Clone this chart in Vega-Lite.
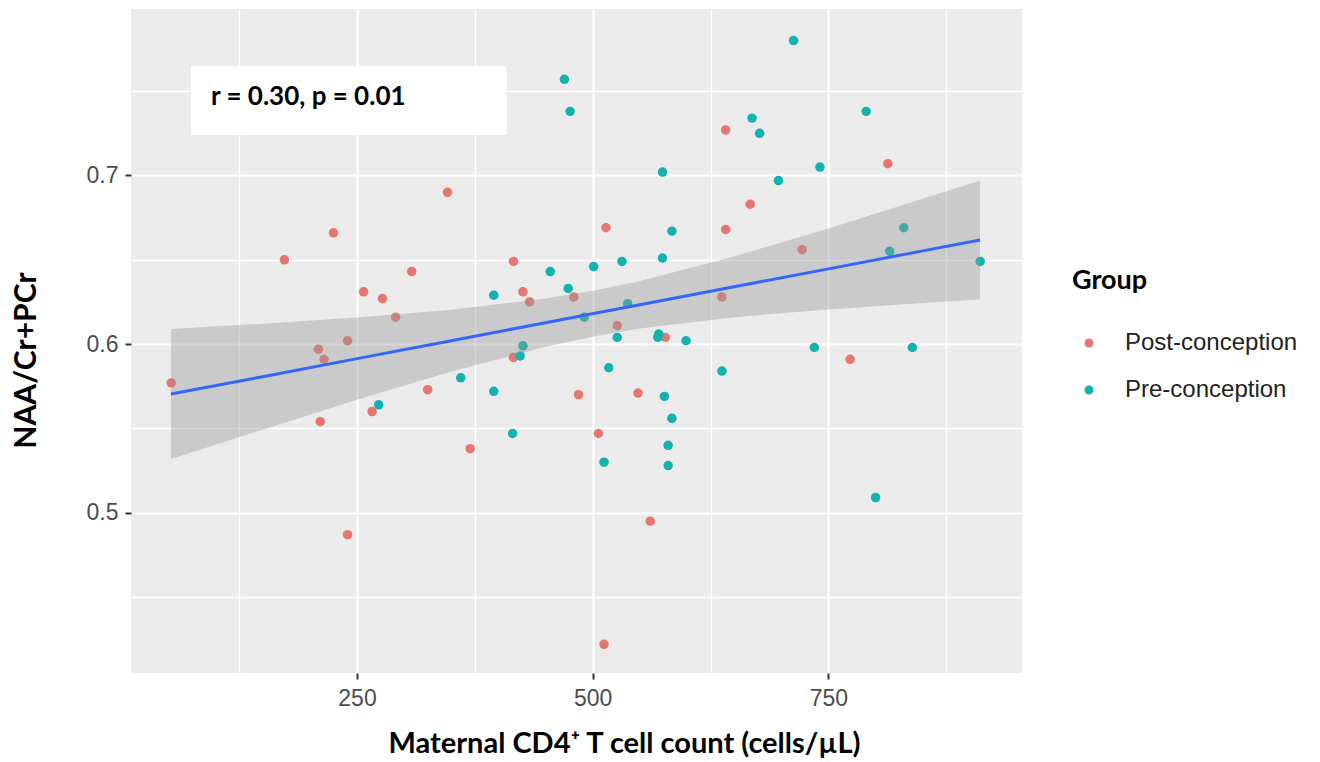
{
  "$schema": "https://vega.github.io/schema/vega-lite/v6.json",
  "width": 891,
  "height": 664,
  "autosize": {"type": "none"},
  "padding": {"left": 131, "top": 9, "right": 298, "bottom": 89},
  "background": "#FFFFFF",
  "config": {
    "view": {"fill": "#EBEBEB", "stroke": null},
    "axis": {
      "domain": false,
      "labelFont": "Liberation Sans",
      "labelFontSize": 23,
      "labelColor": "#4D4D4D",
      "tickColor": "#333333",
      "tickWidth": 2,
      "tickSize": 6,
      "gridColor": "#FFFFFF",
      "gridWidth": 2.2,
      "titleFont": "Lato",
      "titleFontWeight": "bold",
      "titleColor": "#000000"
    },
    "legend": {
      "orient": "none",
      "legendX": 941,
      "legendY": 259,
      "padding": 0,
      "titleFont": "Lato",
      "titleFontSize": 27,
      "titleFontWeight": "bold",
      "titleColor": "#000000",
      "titlePadding": 36,
      "labelFont": "Liberation Sans",
      "labelFontSize": 24,
      "labelColor": "#222222",
      "labelLimit": 400,
      "symbolSize": 80,
      "symbolType": "circle",
      "symbolOffset": 5,
      "labelOffset": 24,
      "rowPadding": 23,
      "symbolStrokeWidth": 0
    }
  },
  "datasets": {
    "points": [
      {"cd4": 346, "naa": 0.690, "group": "Post-conception"},
      {"cd4": 225, "naa": 0.666, "group": "Post-conception"},
      {"cd4": 173, "naa": 0.650, "group": "Post-conception"},
      {"cd4": 308, "naa": 0.643, "group": "Post-conception"},
      {"cd4": 416, "naa": 0.649, "group": "Post-conception"},
      {"cd4": 257, "naa": 0.631, "group": "Post-conception"},
      {"cd4": 277, "naa": 0.627, "group": "Post-conception"},
      {"cd4": 426, "naa": 0.631, "group": "Post-conception"},
      {"cd4": 433, "naa": 0.625, "group": "Post-conception"},
      {"cd4": 291, "naa": 0.616, "group": "Post-conception"},
      {"cd4": 240, "naa": 0.602, "group": "Post-conception"},
      {"cd4": 209, "naa": 0.597, "group": "Post-conception"},
      {"cd4": 215, "naa": 0.591, "group": "Post-conception"},
      {"cd4": 53, "naa": 0.577, "group": "Post-conception"},
      {"cd4": 325, "naa": 0.573, "group": "Post-conception"},
      {"cd4": 266, "naa": 0.560, "group": "Post-conception"},
      {"cd4": 211, "naa": 0.554, "group": "Post-conception"},
      {"cd4": 370, "naa": 0.538, "group": "Post-conception"},
      {"cd4": 240, "naa": 0.487, "group": "Post-conception"},
      {"cd4": 416, "naa": 0.592, "group": "Post-conception"},
      {"cd4": 485, "naa": 0.570, "group": "Post-conception"},
      {"cd4": 480, "naa": 0.628, "group": "Post-conception"},
      {"cd4": 526, "naa": 0.611, "group": "Post-conception"},
      {"cd4": 577, "naa": 0.604, "group": "Post-conception"},
      {"cd4": 548, "naa": 0.571, "group": "Post-conception"},
      {"cd4": 506, "naa": 0.547, "group": "Post-conception"},
      {"cd4": 561, "naa": 0.495, "group": "Post-conception"},
      {"cd4": 512, "naa": 0.422, "group": "Post-conception"},
      {"cd4": 641, "naa": 0.727, "group": "Post-conception"},
      {"cd4": 667, "naa": 0.683, "group": "Post-conception"},
      {"cd4": 514, "naa": 0.669, "group": "Post-conception"},
      {"cd4": 641, "naa": 0.668, "group": "Post-conception"},
      {"cd4": 722, "naa": 0.656, "group": "Post-conception"},
      {"cd4": 813, "naa": 0.707, "group": "Post-conception"},
      {"cd4": 637, "naa": 0.628, "group": "Post-conception"},
      {"cd4": 773, "naa": 0.591, "group": "Post-conception"},
      {"cd4": 470, "naa": 0.757, "group": "Pre-conception"},
      {"cd4": 476, "naa": 0.738, "group": "Pre-conception"},
      {"cd4": 713, "naa": 0.780, "group": "Pre-conception"},
      {"cd4": 669, "naa": 0.734, "group": "Pre-conception"},
      {"cd4": 677, "naa": 0.725, "group": "Pre-conception"},
      {"cd4": 790, "naa": 0.738, "group": "Pre-conception"},
      {"cd4": 574, "naa": 0.702, "group": "Pre-conception"},
      {"cd4": 741, "naa": 0.705, "group": "Pre-conception"},
      {"cd4": 697, "naa": 0.697, "group": "Pre-conception"},
      {"cd4": 584, "naa": 0.667, "group": "Pre-conception"},
      {"cd4": 830, "naa": 0.669, "group": "Pre-conception"},
      {"cd4": 815, "naa": 0.655, "group": "Pre-conception"},
      {"cd4": 911, "naa": 0.649, "group": "Pre-conception"},
      {"cd4": 455, "naa": 0.643, "group": "Pre-conception"},
      {"cd4": 501, "naa": 0.646, "group": "Pre-conception"},
      {"cd4": 531, "naa": 0.649, "group": "Pre-conception"},
      {"cd4": 574, "naa": 0.651, "group": "Pre-conception"},
      {"cd4": 395, "naa": 0.629, "group": "Pre-conception"},
      {"cd4": 474, "naa": 0.633, "group": "Pre-conception"},
      {"cd4": 537, "naa": 0.624, "group": "Pre-conception"},
      {"cd4": 491, "naa": 0.616, "group": "Pre-conception"},
      {"cd4": 526, "naa": 0.604, "group": "Pre-conception"},
      {"cd4": 570, "naa": 0.606, "group": "Pre-conception"},
      {"cd4": 569, "naa": 0.604, "group": "Pre-conception"},
      {"cd4": 599, "naa": 0.602, "group": "Pre-conception"},
      {"cd4": 426, "naa": 0.599, "group": "Pre-conception"},
      {"cd4": 423, "naa": 0.593, "group": "Pre-conception"},
      {"cd4": 517, "naa": 0.586, "group": "Pre-conception"},
      {"cd4": 360, "naa": 0.580, "group": "Pre-conception"},
      {"cd4": 273, "naa": 0.564, "group": "Pre-conception"},
      {"cd4": 395, "naa": 0.572, "group": "Pre-conception"},
      {"cd4": 415, "naa": 0.547, "group": "Pre-conception"},
      {"cd4": 576, "naa": 0.569, "group": "Pre-conception"},
      {"cd4": 584, "naa": 0.556, "group": "Pre-conception"},
      {"cd4": 580, "naa": 0.540, "group": "Pre-conception"},
      {"cd4": 512, "naa": 0.530, "group": "Pre-conception"},
      {"cd4": 580, "naa": 0.528, "group": "Pre-conception"},
      {"cd4": 735, "naa": 0.598, "group": "Pre-conception"},
      {"cd4": 839, "naa": 0.598, "group": "Pre-conception"},
      {"cd4": 637, "naa": 0.584, "group": "Pre-conception"},
      {"cd4": 800, "naa": 0.509, "group": "Pre-conception"}
    ],
    "smooth": [
      {"cd4": 52.7, "fit": 0.5704, "lower": 0.5319, "upper": 0.6089},
      {"cd4": 150, "fit": 0.5807, "lower": 0.5493, "upper": 0.6121},
      {"cd4": 250, "fit": 0.5914, "lower": 0.5670, "upper": 0.6158},
      {"cd4": 350, "fit": 0.6020, "lower": 0.5837, "upper": 0.6204},
      {"cd4": 450, "fit": 0.6127, "lower": 0.5984, "upper": 0.6270},
      {"cd4": 503.5, "fit": 0.6184, "lower": 0.6048, "upper": 0.6320},
      {"cd4": 550, "fit": 0.6233, "lower": 0.6092, "upper": 0.6374},
      {"cd4": 650, "fit": 0.6340, "lower": 0.6160, "upper": 0.6520},
      {"cd4": 750, "fit": 0.6446, "lower": 0.6206, "upper": 0.6686},
      {"cd4": 850, "fit": 0.6553, "lower": 0.6244, "upper": 0.6862},
      {"cd4": 910.8, "fit": 0.6617, "lower": 0.6264, "upper": 0.6970}
    ],
    "note": [
      {"label": "r = 0.30, p = 0.01", "box_from": 73.9, "box_to": 408.6, "box_low": 0.7240, "box_high": 0.7649, "text_cd4": 95.1, "text_naa": 0.7418}
    ]
  },
  "layer": [
    {
      "data": {"name": "smooth"},
      "mark": {"type": "line", "opacity": 0},
      "encoding": {
        "x": {
          "field": "cd4", "type": "quantitative",
          "scale": {"domain": [10.3, 955.3], "nice": false, "zero": false},
          "axis": {"orient": "top", "values": [125, 375, 625, 875], "grid": true, "gridWidth": 1.3, "labels": false, "ticks": false, "title": null}
        },
        "y": {
          "field": "fit", "type": "quantitative",
          "scale": {"domain": [0.405, 0.7987], "nice": false, "zero": false},
          "axis": {"orient": "right", "values": [0.45, 0.55, 0.65, 0.75], "grid": true, "gridWidth": 1.3, "labels": false, "ticks": false, "title": null}
        }
      }
    },
    {
      "data": {"name": "points"},
      "mark": {"type": "circle", "size": 90, "opacity": 1},
      "encoding": {
        "x": {
          "field": "cd4", "type": "quantitative",
          "axis": {
            "orient": "bottom", "values": [250, 500, 750], "grid": true,
            "labelPadding": 8,
            "title": "Maternal CD4⁺ T cell count (cells/µL)",
            "titleFontSize": 29, "titleX": 493, "titleY": 79, "titleBaseline": "alphabetic", "titleAlign": "center"
          }
        },
        "y": {
          "field": "naa", "type": "quantitative",
          "axis": {
            "orient": "left", "values": [0.5, 0.6, 0.7], "format": ".1f", "grid": true,
            "labelPadding": 7,
            "title": "NAA/Cr+PCr",
            "titleFontSize": 30, "titleX": -96, "titleY": 351, "titleBaseline": "alphabetic", "titleAlign": "center", "titleAngle": -90
          }
        },
        "color": {
          "field": "group", "type": "nominal",
          "scale": {"domain": ["Post-conception", "Pre-conception"], "range": ["#E6766F", "#10B3AD"]},
          "legend": {"title": "Group"}
        }
      }
    },
    {
      "data": {"name": "smooth"},
      "mark": {"type": "area", "color": "#999999", "opacity": 0.4},
      "encoding": {
        "x": {"field": "cd4", "type": "quantitative", "axis": null},
        "y": {"field": "lower", "type": "quantitative", "axis": null},
        "y2": {"field": "upper"}
      }
    },
    {
      "data": {"name": "smooth"},
      "mark": {"type": "line", "color": "#3366FF", "strokeWidth": 3},
      "encoding": {
        "x": {"field": "cd4", "type": "quantitative", "axis": null},
        "y": {"field": "fit", "type": "quantitative", "axis": null}
      }
    },
    {
      "data": {"name": "note"},
      "mark": {"type": "rect", "color": "#FFFFFF"},
      "encoding": {
        "x": {"field": "box_from", "type": "quantitative", "axis": null},
        "x2": {"field": "box_to"},
        "y": {"field": "box_low", "type": "quantitative", "axis": null},
        "y2": {"field": "box_high"}
      }
    },
    {
      "data": {"name": "note"},
      "mark": {"type": "text", "align": "left", "baseline": "alphabetic", "font": "Lato", "fontWeight": "bold", "fontSize": 26, "color": "#000000"},
      "encoding": {
        "x": {"field": "text_cd4", "type": "quantitative", "axis": null},
        "y": {"field": "text_naa", "type": "quantitative", "axis": null},
        "text": {"field": "label"}
      }
    }
  ],
  "resolve": {"axis": {"x": "independent", "y": "independent"}}
}
